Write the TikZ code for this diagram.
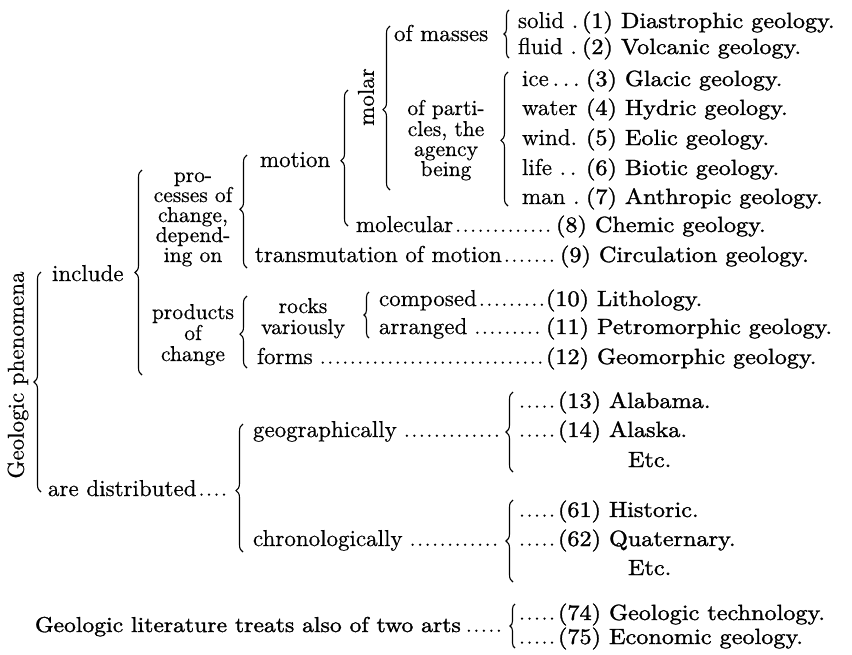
\documentclass[tikz,border=0pt]{standalone}
\usepackage{fontspec}
\newfontfamily\namefont{lmroman10-regular.otf}[FakeBold=1.4,FakeStretch=1.1]
\newfontfamily\labfont{lmroman10-regular.otf}[FakeBold=0.5]
\usetikzlibrary{decorations.pathreplacing}
\begin{document}
\begin{tikzpicture}[x=1pt,y=-1pt,
 every node/.style={inner sep=0pt, outer sep=0pt},
 lab/.style={anchor=base west, font=\labfont\fontsize{23}{23}\selectfont},
 ctr/.style={anchor=base, font=\labfont\fontsize{21.5}{20}\selectfont},
 nm/.style={anchor=base west, font=\namefont\fontsize{22}{22}\selectfont},
 br/.style={decorate, decoration={brace, amplitude=7pt, aspect=#1}, line width=1.1pt},
 br/.default=0.5,
 sbr/.style={decorate, decoration={brace, amplitude=5pt}, line width=1.1pt},
 leader/.style={line width=2.5pt, line cap=round, dash pattern=on 0pt off 7.5pt},
]
\fill[white] (0,0) rectangle (852,654);
\useasboundingbox (0,0) rectangle (852,654);

% ---- left stem
\node[font=\labfont\fontsize{23}{23}\selectfont, rotate=90] (gp) at (18,375) {Geologic phenomena};
\draw[br] (41,492) -- (41,272);
\node[lab] (incl) at (52,281) {include};
\draw[br] (142,375) -- (142,170);

% processes of change
\node[ctr] (p1) at (193,182) {pro-};
\node[ctr] (p2) at (193,202) {cesses of};
\node[ctr] (p3) at (193,222) {change,};
\node[ctr] (p4) at (193,242) {depend-};
\node[ctr] (p5) at (193,262) {ing on};
\draw[br=0.52] (247,268) -- (247,155);

\node[lab] (motion) at (260,167) {motion};
\draw[br=0.48] (348,226) -- (348,90);
\node[font=\labfont\fontsize{23}{23}\selectfont, rotate=90] (molar) at (366,97) {molar};
\draw[br=0.49] (390,190) -- (390,26);
\node[lab] (masses) at (394,41) {of masses};
\draw[sbr] (509,58) -- (509,10);

\node[ctr] (q1) at (446,115) {of parti-};
\node[ctr] (q2) at (446,136) {cles, the};
\node[ctr] (q3) at (446,156) {agency};
\node[ctr] (q4) at (446,176) {being};
\draw[br=0.49] (508,206) -- (508,72);

% rows 1-7
\node[lab] (l1) at (518,28) {solid .};
\node[nm] (n1) at (582,28) {(1) Diastrophic geology.};
\node[lab] (l2) at (518,54) {fluid .};
\node[nm] (n2) at (582,54) {(2) Volcanic geology.};
\node[lab] (l3) at (522,86) {ice\,.\,.\,.};
\node[nm] (n3) at (586,86) {(3) Glacic geology.};
\node[lab] (l4) at (522,115) {water};
\node[nm] (n4) at (586,115) {(4) Hydric geology.};
\node[lab] (l5) at (522,145) {wind.};
\node[nm] (n5) at (586,145) {(5) Eolic geology.};
\node[lab] (l6) at (522,175) {life\ .\,.};
\node[nm] (n6) at (586,175) {(6) Biotic geology.};
\node[lab] (l7) at (522,204) {man .};
\node[nm] (n7) at (586,204) {(7) Anthropic geology.};

% rows 8-9
\node[lab] (l8) at (356,232) {molecular};
\node[nm] (n8) at (556,232) {(8) Chemic geology.};
\draw[leader] ([xshift=5pt,yshift=1.3pt]l8.base east) -- ([xshift=-2pt,yshift=1.3pt]n8.base west);
\node[lab] (l9) at (255,262) {transmutation of motion};
\node[nm] (n9) at (560,262) {(9) Circulation geology.};
\draw[leader] ([xshift=5pt,yshift=1.3pt]l9.base east) -- ([xshift=-2pt,yshift=1.3pt]n9.base west);

% products of change
\node[ctr] (r1) at (193,319) {products};
\node[ctr] (r2) at (193,340) {of};
\node[ctr] (r3) at (193,361) {change};
\draw[br=0.47] (247,368) -- (247,296);
\node[ctr] (k1) at (303,313) {rocks};
\node[ctr] (k2) at (303,334) {variously};
\draw[sbr] (369,338) -- (369,292);
\node[lab] (l10) at (379,306) {composed};
\node[nm] (n10) at (546,306) {(10) Lithology.};
\draw[leader] ([xshift=5pt,yshift=1.3pt]l10.base east) -- ([xshift=-2pt,yshift=1.3pt]n10.base west);
\node[lab] (l11) at (379,334) {arranged};
\node[nm] (n11) at (546,334) {(11) Petromorphic geology.};
\draw[leader] ([xshift=10pt,yshift=1.3pt]l11.base east) -- ([xshift=-2pt,yshift=1.3pt]n11.base west);
\node[lab] (l12) at (257,364) {forms};
\node[nm] (n12) at (546,364) {(12) Geomorphic geology.};
\draw[leader] ([xshift=10pt,yshift=1.3pt]l12.base east) -- ([xshift=-2pt,yshift=1.3pt]n12.base west);

% distribution
\node[lab] (ad) at (48,496) {are distributed};
\coordinate (adx) at (226,496);
\draw[leader] ([xshift=5pt,yshift=1.3pt]ad.base east) -- ([yshift=1.3pt]adx);
\draw[br=0.48] (243,552) -- (243,424);

\node[lab] (geo) at (253,437) {geographically};
\coordinate (geox) at (498,437);
\draw[leader] ([xshift=10pt,yshift=1.3pt]geo.base east) -- ([yshift=1.3pt]geox);
\draw[br] (513,472) -- (513,392);
\coordinate (a13) at (522,408);
\node[nm] (n13) at (558,408) {(13) Alabama.};
\draw[leader] ([yshift=1.3pt]a13) -- ([xshift=-1pt,yshift=1.3pt]n13.base west);
\coordinate (a14) at (522,437);
\node[nm] (n14) at (558,437) {(14) Alaska.};
\draw[leader] ([yshift=1.3pt]a14) -- ([xshift=-1pt,yshift=1.3pt]n14.base west);
\node[nm] (etc1) at (628,467) {Etc.};

\node[lab] (chr) at (253,546) {chronologically};
\coordinate (chrx) at (498,546);
\draw[leader] ([xshift=10pt,yshift=1.3pt]chr.base east) -- ([yshift=1.3pt]chrx);
\draw[br] (513,582) -- (513,500);
\coordinate (a61) at (522,517);
\node[nm] (n61) at (558,517) {(61) Historic.};
\draw[leader] ([yshift=1.3pt]a61) -- ([xshift=-1pt,yshift=1.3pt]n61.base west);
\coordinate (a62) at (522,546);
\node[nm] (n62) at (558,546) {(62) Quaternary.};
\draw[leader] ([yshift=1.3pt]a62) -- ([xshift=-1pt,yshift=1.3pt]n62.base west);
\node[nm] (etc2) at (628,575) {Etc.};

% arts
\node[anchor=base west, font=\namefont\fontsize{21.5}{22}\selectfont] (lit) at (35,632) {Geologic literature treats also of two arts};
\coordinate (litx) at (502,632);
\draw[leader] ([xshift=8pt,yshift=1.3pt]lit.base east) -- ([yshift=1.3pt]litx);
\draw[sbr] (515,648) -- (515,604);
\coordinate (a74) at (522,620);
\node[nm] (n74) at (558,620) {(74) Geologic technology.};
\draw[leader] ([yshift=1.3pt]a74) -- ([xshift=-1pt,yshift=1.3pt]n74.base west);
\coordinate (a75) at (522,644);
\node[nm] (n75) at (558,644) {(75) Economic geology.};
\draw[leader] ([yshift=1.3pt]a75) -- ([xshift=-1pt,yshift=1.3pt]n75.base west);
\end{tikzpicture}
\end{document}
